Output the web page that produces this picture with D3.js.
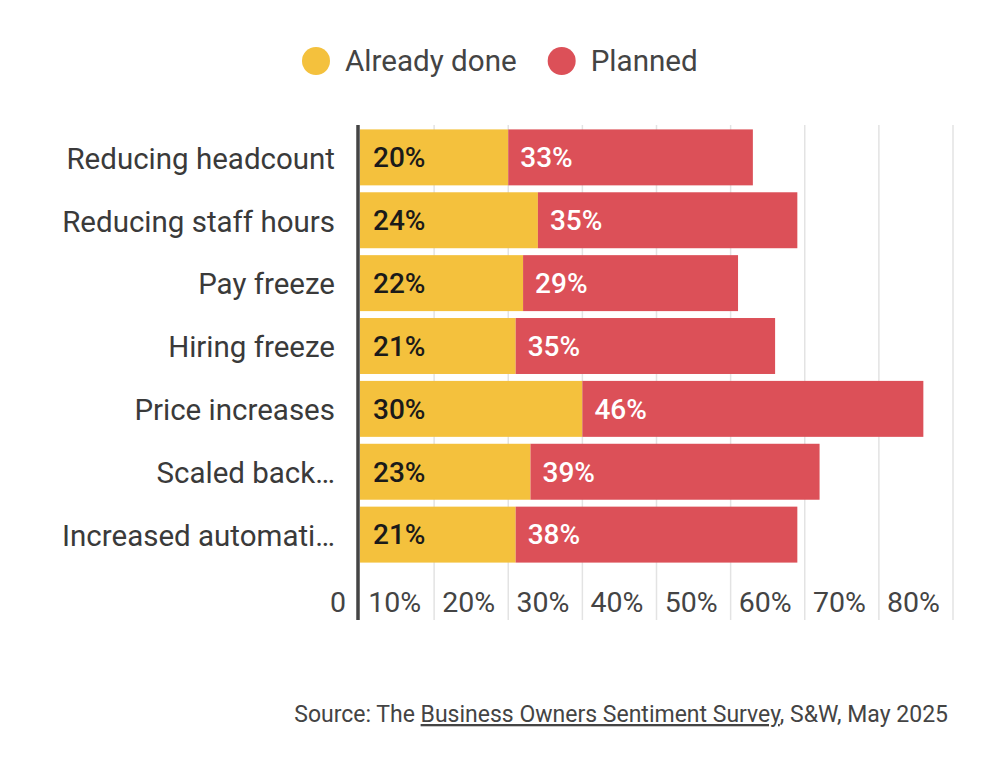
<!DOCTYPE html>
<html lang="en">
<head>
<meta charset="utf-8">
<script src="https://d3js.org/d3.v7.min.js"></script>
<style>
  body { margin: 0; background: #fff; }
  svg text { font-family: Roboto, "Noto Sans", sans-serif; }
</style>
</head>
<body>
<div id="chart"></div>
<script>
// chart data
const categories = ["Reducing headcount", "Reducing staff hours", "Pay freeze", "Hiring freeze",
                    "Price increases", "Scaled back\u2026", "Increased automati\u2026"];
const alreadyDone = [20, 24, 22, 21, 30, 23, 21];
const planned     = [33, 35, 29, 35, 46, 39, 38];
const seriesNames = ["Already done", "Planned"];
const seriesColors = ["#F4C13D", "#DC5058"];
const xTicks = [0, 10, 20, 30, 40, 50, 60, 70, 80];

const W = 1000, H = 758;
const margin = {top: 125, left: 360};

const svg = d3.select("#chart").append("svg")
  .attr("width", W).attr("height", H);

// legend
const legend = svg.append("g").attr("transform", "translate(316,61)");
let lx = 0;
seriesNames.forEach((name, i) => {
  const g = legend.append("g").attr("transform", `translate(${lx},0)`);
  g.append("circle").attr("r", 14).attr("fill", seriesColors[i]);
  const t = g.append("text").attr("x", 29).attr("dy", "0.35em")
    .attr("font-size", 29.6).attr("fill", "#444").text(name);
  lx += 29 + t.node().getComputedTextLength() + 45;
});

const g = svg.append("g").attr("transform", `translate(${margin.left},${margin.top})`);

const x = d3.scaleLinear().domain([0, 80]).range([0, 593]);
const y = d3.scaleBand().domain(categories).range([0, 442]).paddingInner(0.11).paddingOuter(0.07);

// gridlines
g.selectAll(".grid").data(xTicks.slice(1)).enter().append("line")
  .attr("x1", d => x(d)).attr("x2", d => x(d))
  .attr("y1", 0).attr("y2", 495)
  .attr("stroke", "#e3e3e3").attr("stroke-width", 1.5);

// tick labels (sit to the left of each gridline)
g.selectAll(".tick-label").data(xTicks).enter().append("text")
  .attr("x", d => x(d) - (d === 0 ? 14 : 13)).attr("y", 477)
  .attr("text-anchor", "end").attr("dy", "0.35em")
  .attr("font-size", 28.5).attr("fill", "#444")
  .text(d => d === 0 ? "0" : d + "%");

const rows = categories.map((c, i) => ({cat: c, a: alreadyDone[i], p: planned[i]}));

// bars
g.selectAll(".bar-a").data(rows).enter().append("rect")
  .attr("x", x(0)).attr("y", d => y(d.cat))
  .attr("width", d => x(d.a) - x(0)).attr("height", y.bandwidth())
  .attr("fill", seriesColors[0]);
g.selectAll(".bar-p").data(rows).enter().append("rect")
  .attr("x", d => x(d.a)).attr("y", d => y(d.cat))
  .attr("width", d => x(d.a + d.p) - x(d.a)).attr("height", y.bandwidth())
  .attr("fill", seriesColors[1]);

// value labels
g.selectAll(".lab-a").data(rows).enter().append("text")
  .attr("x", x(0) + 13).attr("y", d => y(d.cat) + y.bandwidth() / 2)
  .attr("dy", "0.35em").attr("font-size", 28).attr("font-weight", 500)
  .attr("fill", "#1a1a1a").text(d => d.a + "%");
g.selectAll(".lab-p").data(rows).enter().append("text")
  .attr("x", d => x(d.a) + 12).attr("y", d => y(d.cat) + y.bandwidth() / 2)
  .attr("dy", "0.35em").attr("font-size", 28).attr("font-weight", 500)
  .attr("fill", "#fff").text(d => d.p + "%");

// category labels
g.selectAll(".cat").data(categories).enter().append("text")
  .attr("x", -25).attr("y", d => y(d) + y.bandwidth() / 2 + 1)
  .attr("text-anchor", "end").attr("dy", "0.35em")
  .attr("font-size", 29.5).attr("fill", "#3a3a3a").text(d => d);

// axis line
g.append("line").attr("x1", -2).attr("x2", -2).attr("y1", 0).attr("y2", 495)
  .attr("stroke", "#444").attr("stroke-width", 3.5);

// source
const src = svg.append("text").attr("x", 948).attr("y", 722)
  .attr("text-anchor", "end").attr("font-size", 23).attr("fill", "#444");
src.append("tspan").text("Source: The ");
src.append("tspan").attr("text-decoration", "underline").text("Business Owners Sentiment Survey");
src.append("tspan").text(", S&W, May 2025");
</script>
</body>
</html>
